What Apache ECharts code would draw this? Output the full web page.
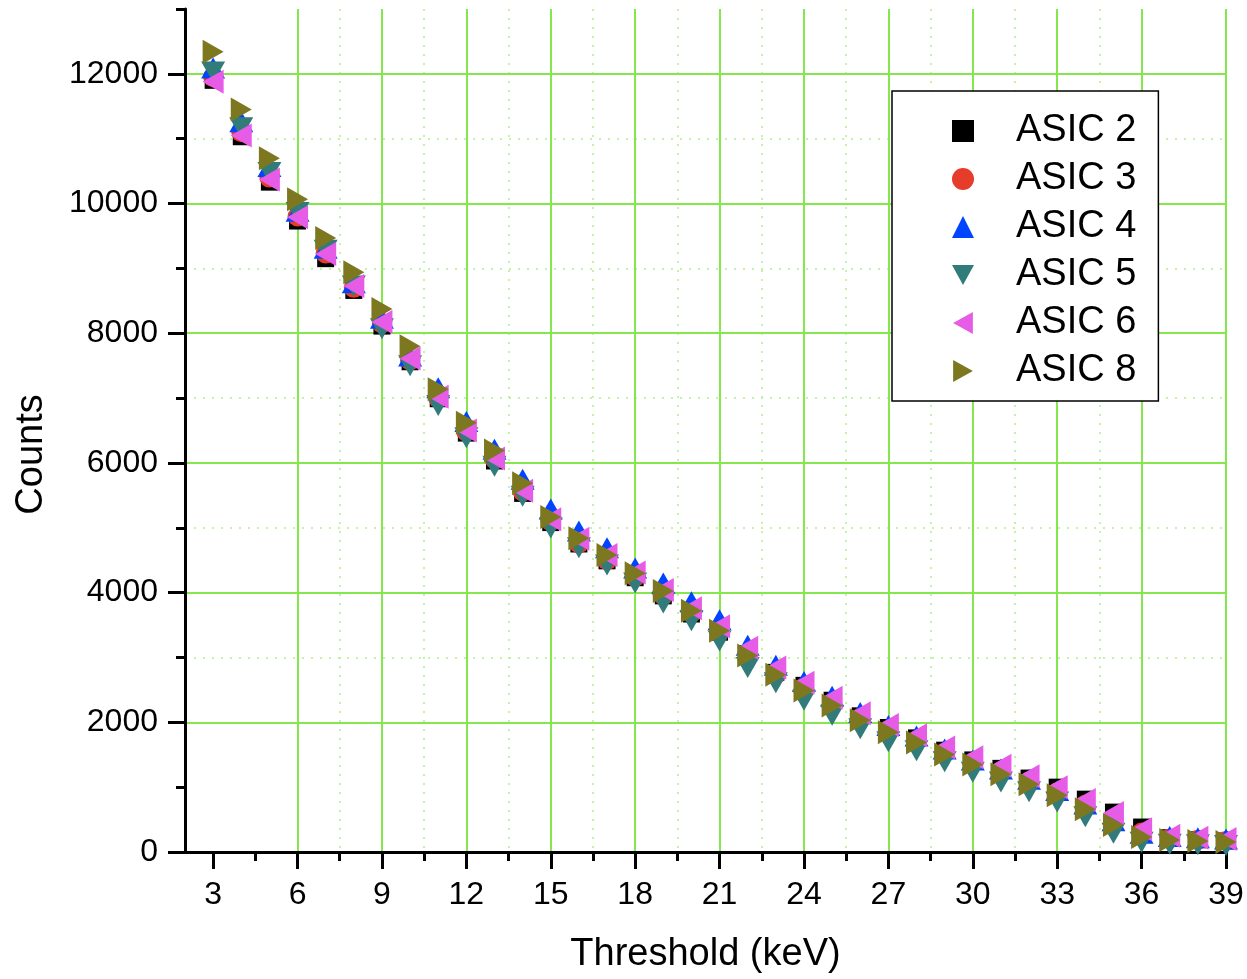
<!DOCTYPE html>
<html>
<head>
<meta charset="utf-8">
<script src="https://cdn.jsdelivr.net/npm/echarts@6/dist/echarts.min.js"></script>
<style>html,body{margin:0;padding:0;background:#fff;}#chart{width:1247px;height:979px;}</style>
</head>
<body>
<div id="chart"></div>
<script>
// Threshold (keV) values
const thresholds = [3,4,5,6,7,8,9,10,11,12,13,14,15,16,17,18,19,20,21,22,23,24,25,26,27,28,29,30,31,32,33,34,35,36,37,38,39];
const seriesNames = ['ASIC 2','ASIC 3','ASIC 4','ASIC 5','ASIC 6','ASIC 8'];
const asic2 = [11900,11030,10330,9730,9150,8660,8110,7560,6990,6460,6030,5530,5080,4750,4490,4230,3950,3670,3390,3060,2770,2570,2340,2100,1920,1760,1570,1420,1290,1140,1000,815,615,385,220,190,170];
const asic3 = [11950,11100,10400,9800,9230,8700,8150,7580,7000,6480,6060,5560,5100,4760,4500,4240,3960,3690,3400,3040,2740,2540,2300,2070,1880,1720,1530,1380,1240,1090,920,730,500,300,210,190,170];
const asic4 = [12090,11260,10570,9880,9310,8780,8230,7650,7160,6640,6210,5750,5290,4950,4690,4380,4150,3860,3580,3190,2880,2630,2400,2150,1950,1790,1590,1420,1280,1120,950,740,480,290,240,220,200];
const asic5 = [12030,11170,10480,9860,9280,8730,8070,7500,6885,6390,5950,5485,4995,4690,4425,4150,3840,3565,3255,2845,2610,2340,2110,1900,1700,1560,1390,1230,1080,930,770,545,290,150,120,110,100];
const asic6 = [11880,11050,10370,9790,9220,8730,8175,7610,7020,6500,6070,5570,5130,4830,4580,4310,4040,3760,3480,3150,2845,2610,2380,2140,1960,1800,1610,1460,1330,1170,1000,800,600,350,250,220,200];
const asic8 = [12340,11450,10700,10065,9470,8940,8375,7800,7135,6620,6190,5685,5165,4840,4580,4300,4025,3720,3410,3030,2735,2490,2260,2030,1845,1690,1505,1350,1200,1045,875,660,415,230,185,170,155];
// axis tick values
const xMajorTicks = [3,6,9,12,15,18,21,24,27,30,33,36,39];
const xMinorTicks = [4.5,7.5,10.5,13.5,16.5,19.5,22.5,25.5,28.5,31.5,34.5,37.5];
const yMajorTicks = [0,2000,4000,6000,8000,10000,12000];
const yMinorTicks = [1000,3000,5000,7000,9000,11000,13000];

const FONT = 'Liberation Sans, Arial, sans-serif';
const GREEN = '#84E84C';
const GREEN_DOT = '#B0F08C';

const allValues = [asic2, asic3, asic4, asic5, asic6, asic8];
const colors = ['#000000','#E83C2A','#0044FF','#317B7B','#E65CE6','#7D7820'];
const symbols = ['rect','circle','triangle','path://M0,0L10,0L5,9Z','path://M0,5L9,0L9,10Z','path://M0,0L9,5L0,10Z'];
const sizes = [[17,17],[20,20],[24,21],[24,21],[21,24],[21,24]];

const series = seriesNames.map((name, k) => ({
  name: name,
  type: 'scatter',
  xAxisIndex: 0,
  yAxisIndex: 0,
  symbol: symbols[k],
  symbolSize: sizes[k],
  itemStyle: { color: colors[k], opacity: 1 },
  emphasis: { disabled: true },
  z: 3 + k,
  data: thresholds.map((t, i) => [t, allValues[k][i]])
}));

const plain = v => String(v);

const chart = echarts.init(document.getElementById('chart'), null, { renderer: 'canvas' });
chart.setOption({
  animation: false,
  backgroundColor: '#ffffff',
  textStyle: { fontFamily: FONT },
  grid: { left: 185, right: 21, top: 9, bottom: 124 },
  legend: {
    orient: 'vertical',
    left: 892,
    top: 91,
    padding: [20, 22, 10, 60],
    itemGap: 8,
    itemWidth: 22,
    itemHeight: 22,
    borderColor: '#000',
    borderWidth: 1.5,
    backgroundColor: '#fff',
    textStyle: { fontSize: 38, color: '#000', fontFamily: FONT, padding: [0, 0, 0, 37], lineHeight: 40 },
    data: seriesNames.map((n, k) => ({ name: n, icon: symbols[k] }))
  },
  xAxis: [
    {
      type: 'value', min: 2, max: 39, position: 'bottom',
      name: 'Threshold (keV)', nameLocation: 'middle', nameGap: 84,
      nameTextStyle: { fontSize: 38, color: '#000', fontFamily: FONT },
      axisLine: { show: true, onZero: false, lineStyle: { color: '#000', width: 3 } },
      axisTick: { show: true, customValues: xMajorTicks, length: 17, lineStyle: { color: '#000', width: 3 } },
      axisLabel: { show: true, customValues: xMajorTicks, margin: 27, fontSize: 32, color: '#000', fontFamily: FONT, formatter: plain },
      splitLine: { show: true, showMinLine: false, lineStyle: { color: GREEN, width: 2 } },
      z: 2
    },
    {
      type: 'value', min: 2, max: 39, position: 'bottom',
      axisLine: { show: false, onZero: false },
      axisTick: { show: true, customValues: xMinorTicks, length: 9, lineStyle: { color: '#000', width: 3 } },
      axisLabel: { show: false, customValues: xMinorTicks },
      splitLine: { show: true, showMinLine: false, showMaxLine: false, lineStyle: { color: GREEN_DOT, width: 1.5, type: [2, 7] } },
      z: 1
    }
  ],
  yAxis: [
    {
      type: 'value', min: 0, max: 13000, position: 'left',
      name: 'Counts', nameLocation: 'middle', nameGap: 134,
      nameTextStyle: { fontSize: 38, color: '#000', fontFamily: FONT, padding: [0, 48, 0, 0] },
      axisLine: { show: true, onZero: false, lineStyle: { color: '#000', width: 3 } },
      axisTick: { show: true, customValues: yMajorTicks, length: 17, lineStyle: { color: '#000', width: 3 } },
      axisLabel: { show: true, customValues: yMajorTicks, margin: 27, fontSize: 32, color: '#000', fontFamily: FONT, formatter: plain },
      splitLine: { show: true, showMinLine: false, lineStyle: { color: GREEN, width: 2 } },
      z: 2
    },
    {
      type: 'value', min: 0, max: 13000, position: 'left',
      axisLine: { show: false, onZero: false },
      axisTick: { show: true, customValues: yMinorTicks, length: 9, lineStyle: { color: '#000', width: 3 } },
      axisLabel: { show: false, customValues: yMinorTicks },
      splitLine: { show: true, showMinLine: false, showMaxLine: false, lineStyle: { color: GREEN_DOT, width: 1.5, type: [2, 7] } },
      z: 1
    }
  ],
  series: series
});
</script>
</body>
</html>
